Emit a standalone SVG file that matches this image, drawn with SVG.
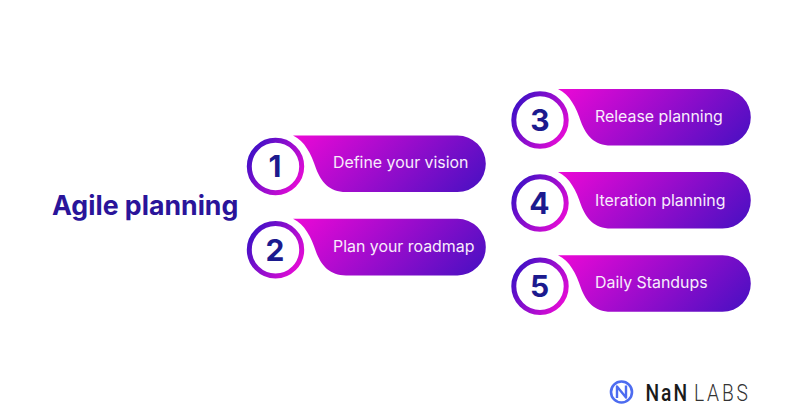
<svg xmlns="http://www.w3.org/2000/svg" width="800" height="419" viewBox="0 0 800 419">
<style>
.lbl{font-family:Inter,"Liberation Sans",sans-serif;font-size:15.9px;font-weight:400;fill:#f8ecfc}
.num{font-family:Inter,"Liberation Sans",sans-serif;font-size:30px;font-weight:700;fill:#1c1a8e;text-anchor:middle}
.ring{fill:#fff;stroke:url(#rg);stroke-width:5}
.pill{fill:url(#pg)}
</style>
<defs>
<linearGradient id="pg" gradientUnits="userSpaceOnUse" x1="0" y1="0" x2="124" y2="124"><stop offset="0" stop-color="#ec08d6"/><stop offset="1" stop-color="#4710c2"/></linearGradient>
<linearGradient id="rg" x1="0" y1="0.2" x2="1" y2="0.8"><stop offset="0" stop-color="#3d10c6"/><stop offset="1" stop-color="#e80bd6"/></linearGradient>
<path id="p" d="M0 0H164.500A28.300 28.300 0 0 1 164.500 56.600H53C36 56.600 28 46 23 33C18 18 12 6 0 0Z"/>
</defs>
<rect width="800" height="419" fill="#fff"/>
<text id="title" x="52" y="214.800" font-family="Inter,'Liberation Sans',sans-serif" font-size="26.700px" font-weight="700" fill="#2a149a">Agile planning</text>
<g id="node-1"><use href="#p" x="293" y="135.500" class="pill"/><circle cx="275.500" cy="166.500" r="26.200" class="ring"/><text x="275" y="177" class="num">1</text><text x="333" y="168" class="lbl">Define your vision</text></g>
<g id="node-2"><use href="#p" x="293" y="218.800" class="pill"/><circle cx="275.500" cy="249.800" r="26.200" class="ring"/><text x="275" y="260.500" class="num">2</text><text x="333" y="251.500" class="lbl">Plan your roadmap</text></g>
<g id="node-3"><use href="#p" x="558" y="89" class="pill"/><circle cx="540" cy="120" r="26.200" class="ring"/><text x="540" y="130.500" class="num">3</text><text x="595" y="122" class="lbl">Release planning</text></g>
<g id="node-4"><use href="#p" x="558" y="172" class="pill"/><circle cx="540" cy="203" r="26.200" class="ring"/><text x="539.500" y="214" class="num">4</text><text x="595" y="206" class="lbl">Iteration planning</text></g>
<g id="node-5"><use href="#p" x="558" y="255.200" class="pill"/><circle cx="540" cy="286.200" r="26.200" class="ring"/><text x="539.500" y="297" class="num">5</text><text x="595" y="288" class="lbl">Daily Standups</text></g>
<g id="connectors"/>
<g id="logo">
<circle cx="621.500" cy="392" r="10.500" fill="none" stroke="#4d6cf0" stroke-width="2.600"/>
<path d="M617 398V386.500L626 397.500V385.500" fill="none" stroke="#4d6cf0" stroke-width="2.400" stroke-linejoin="round"/>
<text transform="translate(645.500 400.500) scale(.8 1)" font-family="Roboto,'Liberation Sans',sans-serif" font-size="24px" font-weight="500" letter-spacing="2.500" fill="#1a1a1a">NaN</text>
<text transform="translate(694 400.500) scale(.8 1)" font-family="Roboto,'Liberation Sans',sans-serif" font-size="24px" font-weight="300" letter-spacing="3.500" fill="#333">LABS</text>
</g>
</svg>
